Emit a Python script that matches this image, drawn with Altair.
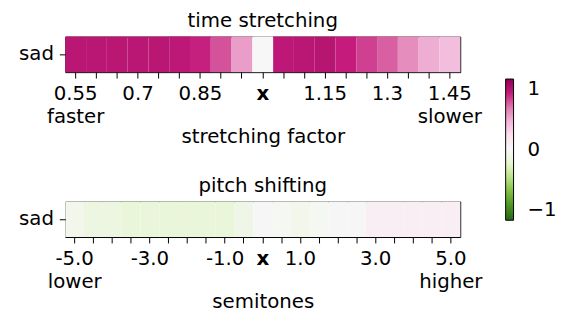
import altair as alt
import pandas as pd

# ---- data ----
ts_labels = ["0.55", "0.6", "0.65", "0.7", "0.75", "0.8", "0.85", "0.9", "0.95", "x",
             "1.05", "1.1", "1.15", "1.2", "1.25", "1.3", "1.35", "1.4", "1.45"]
ts_values = [0.84, 0.84, 0.84, 0.84, 0.84, 0.83, 0.79, 0.68, 0.48, 0.0,
             0.83, 0.84, 0.85, 0.80, 0.72, 0.65, 0.53, 0.43, 0.36]

ps_labels = ["-5.0", "-4.5", "-4.0", "-3.5", "-3.0", "-2.5", "-2.0", "-1.5", "-1.0", "-0.5", "x",
             "0.5", "1.0", "1.5", "2.0", "2.5", "3.0", "3.5", "4.0", "4.5", "5.0"]
ps_values = [-0.06, -0.12, -0.12, -0.15, -0.15, -0.15, -0.15, -0.15, -0.15, -0.08, 0.01,
             -0.02, -0.06, -0.02, 0.01, 0.01, 0.08, 0.08, 0.08, 0.08, 0.08]

emotion = "sad"

ts_shown = ["0.7", "0.85", "x", "1.15", "1.3"]
ps_shown = ["-3.0", "-1.0", "x", "1.0", "3.0"]

# PiYG (reversed so that +1 is pink)
cmap_domain = [-1, -0.8, -0.6, -0.4, -0.2, 0, 0.2, 0.4, 0.6, 0.8, 1]
cmap_range = ["#276419", "#4d9221", "#7fbc41", "#b8e186", "#e6f5d0", "#f7f7f7",
              "#fde0ef", "#f1b6da", "#de77ae", "#c51b7d", "#8e0152"]

FONT = "DejaVu Sans"
FS = 20

ts_df = pd.DataFrame({"factor": ts_labels, "r": ts_values, "emotion": emotion})
ps_df = pd.DataFrame({"factor": ps_labels, "r": ps_values, "emotion": emotion})

color_scale = alt.Scale(domain=cmap_domain, range=cmap_range, interpolate="rgb")


def label_expr(first, first_word, last, last_word, shown):
    arr = "[" + ",".join("'" + s + "'" for s in shown) + "]"
    return (f"datum.value == '{first}' ? ['{first}', '{first_word}'] : "
            f"datum.value == '{last}' ? ['{last}', '{last_word}'] : "
            f"indexof({arr}, datum.value) >= 0 ? datum.value : ''")


def panel(df, labels, title, xtitle, expr, show_legend):
    legend = alt.Legend(
        title=None, values=[1, 0, -1], orient="none",
        legendX=446, legendY=43, gradientLength=143, gradientThickness=8,
        gradientStrokeColor="black", gradientStrokeWidth=1,
        labelExpr="datum.value < 0 ? '\u22121' : format(datum.value, 'd')",
        labelFontSize=FS, labelFont=FONT, labelColor="black", labelOffset=14,
    ) if show_legend else None
    return alt.Chart(df, title=alt.TitleParams(title, fontSize=FS, font=FONT,
                                               fontWeight="normal", offset=6)).mark_rect().encode(
        x=alt.X("factor:N", sort=labels, title=xtitle,
                scale=alt.Scale(paddingInner=0, paddingOuter=0),
                axis=alt.Axis(labelAngle=0, labelExpr=expr, labelLineHeight=23,
                              labelFontWeight=alt.condition("datum.value == 'x'", alt.value("bold"), alt.value("normal")),
                              titlePadding=0)),
        y=alt.Y("emotion:N", title=None,
                scale=alt.Scale(paddingInner=0, paddingOuter=0)),
        color=alt.Color("r:Q", scale=color_scale, legend=legend),
    ).properties(width=400, height=36)


top = panel(ts_df, ts_labels, "time stretching", "stretching factor",
            label_expr("0.55", "faster", "1.45", "slower", ts_shown), True)
bottom = panel(ps_df, ps_labels, "pitch shifting", "semitones",
               label_expr("-5.0", "lower", "5.0", "higher", ps_shown), False)

chart = alt.vconcat(top, bottom, spacing=28).properties(
    padding={"left": 10, "top": 0, "right": 0, "bottom": 0}
).configure_view(
    stroke="black", strokeWidth=1
).configure_axis(
    labelFont=FONT, labelFontSize=FS, labelColor="black",
    titleFont=FONT, titleFontSize=FS, titleFontWeight="normal", titleColor="black",
    domain=False, tickColor="black", tickSize=6, labelPadding=6, grid=False,
).configure_legend(padding=0)

chart.save("out.html", embed_options={"renderer": "svg", "actions": False})
